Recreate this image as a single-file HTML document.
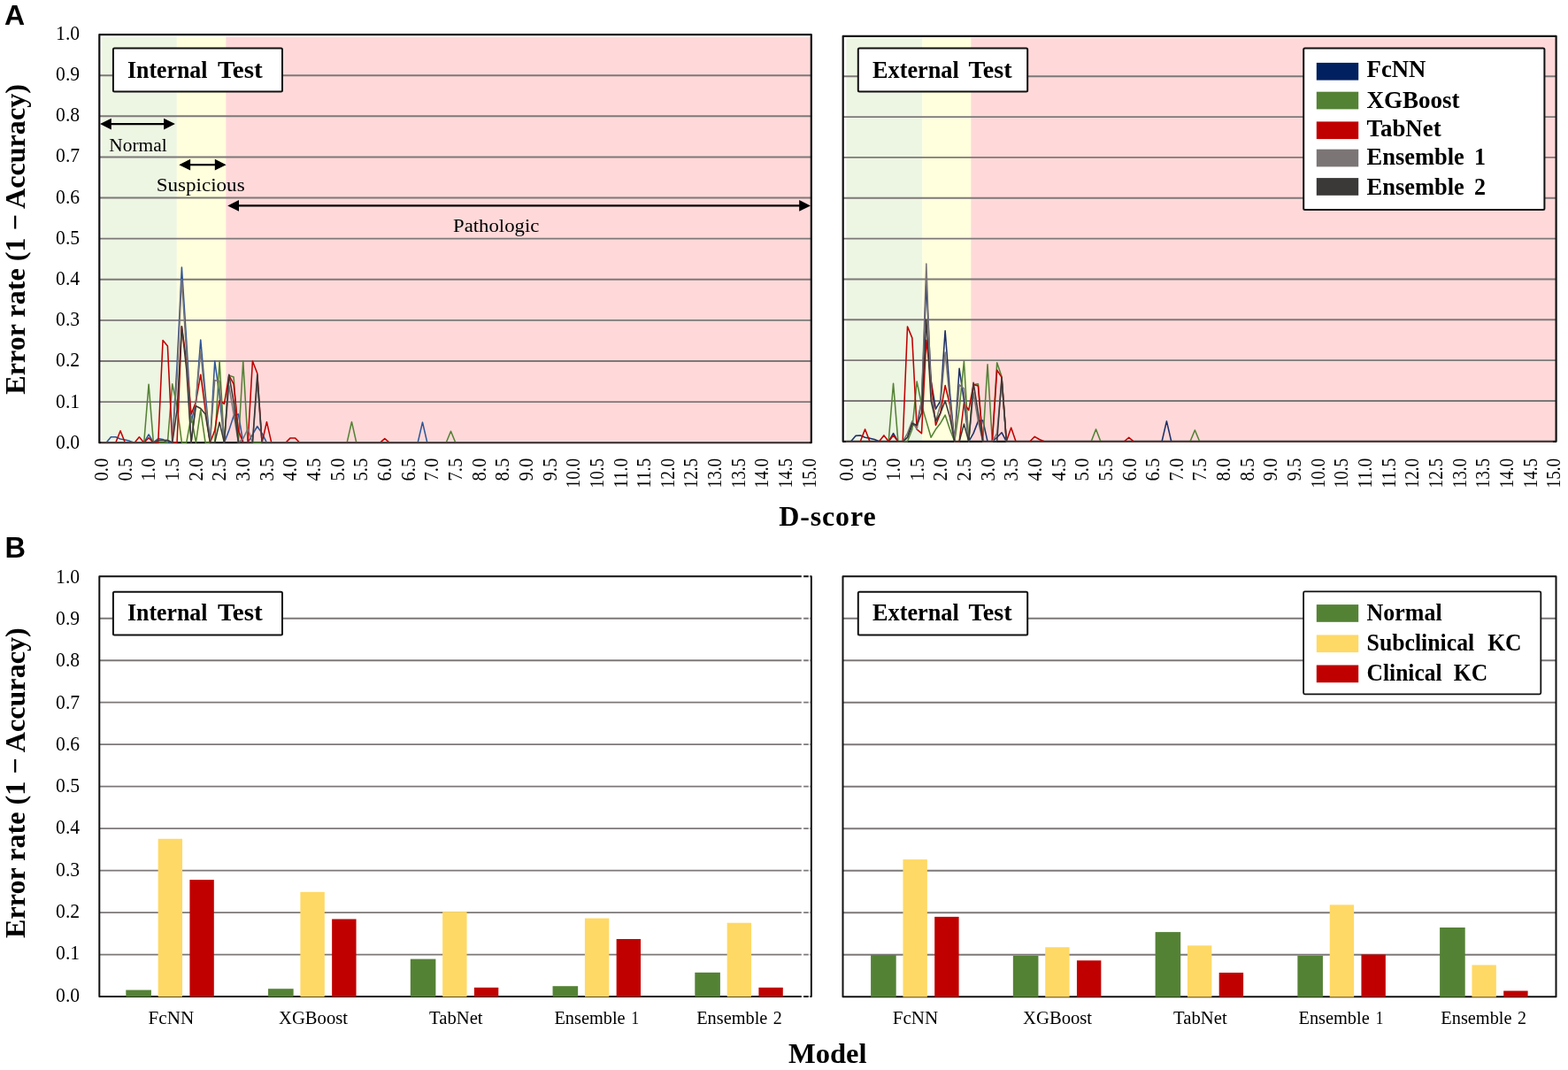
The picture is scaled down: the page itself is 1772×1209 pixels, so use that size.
<!DOCTYPE html>
<html lang="en"><head><meta charset="utf-8"><title>Error rate by D-score and model</title>
<style>html,body{margin:0;padding:0;background:#fff}svg{display:block}text{fill:#000}</style></head><body>
<svg width="1772" height="1209" viewBox="0 0 1772 1209" role="img" aria-label="Error rate by D-score and by model for internal and external test sets">
<rect width="1772" height="1209" fill="#fff"/>
<text x="5" y="27.6" font-family="'Liberation Sans',Arial,sans-serif" font-size="32" font-weight="bold">A</text>
<text x="5.5" y="629.8" font-family="'Liberation Sans',Arial,sans-serif" font-size="32.5" font-weight="bold">B</text>
<rect x="115.3" y="41.7" width="84.5" height="458.5" fill="#edf5e3"/>
<rect x="199.8" y="41.7" width="55.5" height="458.5" fill="#ffffdd"/>
<rect x="255.3" y="41.7" width="660.9" height="458.5" fill="#ffd9d9"/>
<line x1="112.3" y1="454.09" x2="916.8" y2="454.09" stroke="#7d7878" stroke-width="1.9"/>
<line x1="112.3" y1="407.98" x2="916.8" y2="407.98" stroke="#7d7878" stroke-width="1.9"/>
<line x1="112.3" y1="361.87" x2="916.8" y2="361.87" stroke="#7d7878" stroke-width="1.9"/>
<line x1="112.3" y1="315.76" x2="916.8" y2="315.76" stroke="#7d7878" stroke-width="1.9"/>
<line x1="112.3" y1="269.65" x2="916.8" y2="269.65" stroke="#7d7878" stroke-width="1.9"/>
<line x1="112.3" y1="223.54" x2="916.8" y2="223.54" stroke="#7d7878" stroke-width="1.9"/>
<line x1="112.3" y1="177.43" x2="916.8" y2="177.43" stroke="#7d7878" stroke-width="1.9"/>
<line x1="112.3" y1="131.32" x2="916.8" y2="131.32" stroke="#7d7878" stroke-width="1.9"/>
<line x1="112.3" y1="85.21" x2="916.8" y2="85.21" stroke="#7d7878" stroke-width="1.9"/>
<rect x="112.3" y="39.1" width="804.5" height="461.1" fill="none" stroke="#111111" stroke-width="2.2" stroke-linejoin="round"/>
<polyline points="114.7,500.2 120.03,500.2 125.37,493.74 130.71,493.74 136.04,496.05 141.38,496.97 146.71,498.36 152.05,500.2 157.38,500.2 162.72,500.2 168.05,490.98 173.38,500.2 178.72,495.59 184.06,496.51 189.39,500.2 194.73,500.2 200.06,412.59 205.39,301.93 210.73,384.93 216.06,477.14 221.4,454.09 226.74,384 232.07,444.87 237.41,500.2 242.74,407.98 248.07,447.17 253.41,500.2 258.75,486.37 264.08,469.77 269.42,467.92 274.75,500.2 280.08,500.2 285.42,490.98 290.75,481.76 296.09,489.59 301.43,500.2 306.76,500.2 312.1,500.2 317.43,500.2 322.76,500.2 328.1,500.2 333.44,500.2 338.77,500.2 344.11,500.2 349.44,500.2 354.77,500.2 360.11,500.2 365.44,500.2 370.78,500.2 376.12,500.2 381.45,500.2 386.78,500.2 392.12,500.2 397.45,500.2 402.79,500.2 408.12,500.2 413.46,500.2 418.79,500.2 424.13,500.2 429.46,500.2 434.8,500.2 440.13,500.2 445.47,500.2 450.81,500.2 456.14,500.2 461.47,500.2 466.81,500.2 472.14,500.2 477.48,477.14 482.81,500.2 488.15,500.2 493.49,500.2 498.82,500.2 504.15,500.2 509.49,500.2 514.83,500.2 520.16,500.2 525.5,500.2 530.83,500.2 536.16,500.2 541.5,500.2 546.84,500.2 552.17,500.2 557.5,500.2 562.84,500.2 568.18,500.2 573.51,500.2 578.85,500.2 584.18,500.2 589.51,500.2 594.85,500.2 600.19,500.2 605.52,500.2 610.86,500.2 616.19,500.2 621.52,500.2 626.86,500.2 632.2,500.2 637.53,500.2 642.87,500.2 648.2,500.2 653.54,500.2 658.87,500.2 664.21,500.2 669.54,500.2 674.88,500.2 680.21,500.2 685.55,500.2 690.88,500.2 696.22,500.2 701.55,500.2 706.88,500.2 712.22,500.2 717.56,500.2 722.89,500.2 728.23,500.2 733.56,500.2 738.9,500.2 744.23,500.2 749.57,500.2 754.9,500.2 760.24,500.2 765.57,500.2 770.91,500.2 776.24,500.2 781.58,500.2 786.91,500.2 792.25,500.2 797.58,500.2 802.92,500.2 808.25,500.2 813.59,500.2 818.92,500.2 824.25,500.2 829.59,500.2 834.93,500.2 840.26,500.2 845.6,500.2 850.93,500.2 856.26,500.2 861.6,500.2 866.94,500.2 872.27,500.2 877.61,500.2 882.94,500.2 888.28,500.2 893.61,500.2 898.95,500.2 904.28,500.2 909.62,500.2 914.95,500.2" fill="none" stroke="#2f5597" stroke-width="1.55" stroke-linejoin="round"/>
<polyline points="114.7,500.2 120.03,500.2 125.37,500.2 130.71,500.2 136.04,500.2 141.38,500.2 146.71,500.2 152.05,500.2 157.38,500.2 162.72,500.2 168.05,434.26 173.38,500.2 178.72,500.2 184.06,500.2 189.39,500.2 194.73,433.8 200.06,458.7 205.39,500.2 210.73,500.2 216.06,470.23 221.4,500.2 226.74,463.31 232.07,500.2 237.41,500.2 242.74,500.2 248.07,407.98 253.41,500.2 258.75,424.12 264.08,425.96 269.42,500.2 274.75,407.98 280.08,500.2 285.42,500.2 290.75,500.2 296.09,500.2 301.43,500.2 306.76,500.2 312.1,500.2 317.43,500.2 322.76,500.2 328.1,500.2 333.44,500.2 338.77,500.2 344.11,500.2 349.44,500.2 354.77,500.2 360.11,500.2 365.44,500.2 370.78,500.2 376.12,500.2 381.45,500.2 386.78,500.2 392.12,500.2 397.45,476.68 402.79,500.2 408.12,500.2 413.46,500.2 418.79,500.2 424.13,500.2 429.46,500.2 434.8,500.2 440.13,500.2 445.47,500.2 450.81,500.2 456.14,500.2 461.47,500.2 466.81,500.2 472.14,500.2 477.48,500.2 482.81,500.2 488.15,500.2 493.49,500.2 498.82,500.2 504.15,500.2 509.49,487.29 514.83,500.2 520.16,500.2 525.5,500.2 530.83,500.2 536.16,500.2 541.5,500.2 546.84,500.2 552.17,500.2 557.5,500.2 562.84,500.2 568.18,500.2 573.51,500.2 578.85,500.2 584.18,500.2 589.51,500.2 594.85,500.2 600.19,500.2 605.52,500.2 610.86,500.2 616.19,500.2 621.52,500.2 626.86,500.2 632.2,500.2 637.53,500.2 642.87,500.2 648.2,500.2 653.54,500.2 658.87,500.2 664.21,500.2 669.54,500.2 674.88,500.2 680.21,500.2 685.55,500.2 690.88,500.2 696.22,500.2 701.55,500.2 706.88,500.2 712.22,500.2 717.56,500.2 722.89,500.2 728.23,500.2 733.56,500.2 738.9,500.2 744.23,500.2 749.57,500.2 754.9,500.2 760.24,500.2 765.57,500.2 770.91,500.2 776.24,500.2 781.58,500.2 786.91,500.2 792.25,500.2 797.58,500.2 802.92,500.2 808.25,500.2 813.59,500.2 818.92,500.2 824.25,500.2 829.59,500.2 834.93,500.2 840.26,500.2 845.6,500.2 850.93,500.2 856.26,500.2 861.6,500.2 866.94,500.2 872.27,500.2 877.61,500.2 882.94,500.2 888.28,500.2 893.61,500.2 898.95,500.2 904.28,500.2 909.62,500.2 914.95,500.2" fill="none" stroke="#548235" stroke-width="1.55" stroke-linejoin="round"/>
<polyline points="114.7,500.2 120.03,500.2 125.37,500.2 130.71,500.2 136.04,486.83 141.38,500.2 146.71,500.2 152.05,500.2 157.38,493.74 162.72,500.2 168.05,494.67 173.38,500.2 178.72,500.2 184.06,384.46 189.39,390.92 194.73,500.2 200.06,500.2 205.39,368.79 210.73,407.98 216.06,467.92 221.4,454.09 226.74,423.2 232.07,463.31 237.41,500.2 242.74,486.37 248.07,452.71 253.41,456.4 258.75,424.12 264.08,433.8 269.42,486.37 274.75,500.2 280.08,500.2 285.42,407.98 290.75,421.81 296.09,500.2 301.43,476.68 306.76,500.2 312.1,500.2 317.43,500.2 322.76,500.2 328.1,494.9 333.44,494.9 338.77,500.2 344.11,500.2 349.44,500.2 354.77,500.2 360.11,500.2 365.44,500.2 370.78,500.2 376.12,500.2 381.45,500.2 386.78,500.2 392.12,500.2 397.45,500.2 402.79,500.2 408.12,500.2 413.46,500.2 418.79,500.2 424.13,500.2 429.46,500.2 434.8,495.59 440.13,500.2 445.47,500.2 450.81,500.2 456.14,500.2 461.47,500.2 466.81,500.2 472.14,500.2 477.48,500.2 482.81,500.2 488.15,500.2 493.49,500.2 498.82,500.2 504.15,500.2 509.49,500.2 514.83,500.2 520.16,500.2 525.5,500.2 530.83,500.2 536.16,500.2 541.5,500.2 546.84,500.2 552.17,500.2 557.5,500.2 562.84,500.2 568.18,500.2 573.51,500.2 578.85,500.2 584.18,500.2 589.51,500.2 594.85,500.2 600.19,500.2 605.52,500.2 610.86,500.2 616.19,500.2 621.52,500.2 626.86,500.2 632.2,500.2 637.53,500.2 642.87,500.2 648.2,500.2 653.54,500.2 658.87,500.2 664.21,500.2 669.54,500.2 674.88,500.2 680.21,500.2 685.55,500.2 690.88,500.2 696.22,500.2 701.55,500.2 706.88,500.2 712.22,500.2 717.56,500.2 722.89,500.2 728.23,500.2 733.56,500.2 738.9,500.2 744.23,500.2 749.57,500.2 754.9,500.2 760.24,500.2 765.57,500.2 770.91,500.2 776.24,500.2 781.58,500.2 786.91,500.2 792.25,500.2 797.58,500.2 802.92,500.2 808.25,500.2 813.59,500.2 818.92,500.2 824.25,500.2 829.59,500.2 834.93,500.2 840.26,500.2 845.6,500.2 850.93,500.2 856.26,500.2 861.6,500.2 866.94,500.2 872.27,500.2 877.61,500.2 882.94,500.2 888.28,500.2 893.61,500.2 898.95,500.2 904.28,500.2 909.62,500.2 914.95,500.2" fill="none" stroke="#c00000" stroke-width="1.55" stroke-linejoin="round"/>
<polyline points="114.7,500.2 120.03,500.2 125.37,500.2 130.71,500.2 136.04,500.2 141.38,500.2 146.71,500.2 152.05,500.2 157.38,500.2 162.72,500.2 168.05,500.2 173.38,500.2 178.72,497.43 184.06,497.43 189.39,497.43 194.73,500.2 200.06,426.42 205.39,315.76 210.73,398.76 216.06,500.2 221.4,454.09 226.74,396.45 232.07,454.09 237.41,500.2 242.74,429.65 248.07,430.57 253.41,500.2 258.75,435.65 264.08,467.92 269.42,500.2 274.75,495.59 280.08,484.52 285.42,500.2 290.75,431.03 296.09,500.2 301.43,500.2 306.76,500.2 312.1,500.2 317.43,500.2 322.76,500.2 328.1,500.2 333.44,500.2 338.77,500.2 344.11,500.2 349.44,500.2 354.77,500.2 360.11,500.2 365.44,500.2 370.78,500.2 376.12,500.2 381.45,500.2 386.78,500.2 392.12,500.2 397.45,500.2 402.79,500.2 408.12,500.2 413.46,500.2 418.79,500.2 424.13,500.2 429.46,500.2 434.8,500.2 440.13,500.2 445.47,500.2 450.81,500.2 456.14,500.2 461.47,500.2 466.81,500.2 472.14,500.2 477.48,500.2 482.81,500.2 488.15,500.2 493.49,500.2 498.82,500.2 504.15,500.2 509.49,500.2 514.83,500.2 520.16,500.2 525.5,500.2 530.83,500.2 536.16,500.2 541.5,500.2 546.84,500.2 552.17,500.2 557.5,500.2 562.84,500.2 568.18,500.2 573.51,500.2 578.85,500.2 584.18,500.2 589.51,500.2 594.85,500.2 600.19,500.2 605.52,500.2 610.86,500.2 616.19,500.2 621.52,500.2 626.86,500.2 632.2,500.2 637.53,500.2 642.87,500.2 648.2,500.2 653.54,500.2 658.87,500.2 664.21,500.2 669.54,500.2 674.88,500.2 680.21,500.2 685.55,500.2 690.88,500.2 696.22,500.2 701.55,500.2 706.88,500.2 712.22,500.2 717.56,500.2 722.89,500.2 728.23,500.2 733.56,500.2 738.9,500.2 744.23,500.2 749.57,500.2 754.9,500.2 760.24,500.2 765.57,500.2 770.91,500.2 776.24,500.2 781.58,500.2 786.91,500.2 792.25,500.2 797.58,500.2 802.92,500.2 808.25,500.2 813.59,500.2 818.92,500.2 824.25,500.2 829.59,500.2 834.93,500.2 840.26,500.2 845.6,500.2 850.93,500.2 856.26,500.2 861.6,500.2 866.94,500.2 872.27,500.2 877.61,500.2 882.94,500.2 888.28,500.2 893.61,500.2 898.95,500.2 904.28,500.2 909.62,500.2 914.95,500.2" fill="none" stroke="#7b7576" stroke-width="1.55" stroke-linejoin="round"/>
<polyline points="114.7,500.2 120.03,500.2 125.37,500.2 130.71,500.2 136.04,500.2 141.38,500.2 146.71,500.2 152.05,500.2 157.38,500.2 162.72,500.2 168.05,500.2 173.38,500.2 178.72,497.43 184.06,497.43 189.39,497.43 194.73,500.2 200.06,463.31 205.39,368.79 210.73,417.2 216.06,500.2 221.4,458.7 226.74,461.47 232.07,467.92 237.41,500.2 242.74,500.2 248.07,477.14 253.41,500.2 258.75,423.2 264.08,454.09 269.42,500.2 274.75,500.2 280.08,500.2 285.42,500.2 290.75,423.2 296.09,500.2 301.43,500.2 306.76,500.2 312.1,500.2 317.43,500.2 322.76,500.2 328.1,500.2 333.44,500.2 338.77,500.2 344.11,500.2 349.44,500.2 354.77,500.2 360.11,500.2 365.44,500.2 370.78,500.2 376.12,500.2 381.45,500.2 386.78,500.2 392.12,500.2 397.45,500.2 402.79,500.2 408.12,500.2 413.46,500.2 418.79,500.2 424.13,500.2 429.46,500.2 434.8,500.2 440.13,500.2 445.47,500.2 450.81,500.2 456.14,500.2 461.47,500.2 466.81,500.2 472.14,500.2 477.48,500.2 482.81,500.2 488.15,500.2 493.49,500.2 498.82,500.2 504.15,500.2 509.49,500.2 514.83,500.2 520.16,500.2 525.5,500.2 530.83,500.2 536.16,500.2 541.5,500.2 546.84,500.2 552.17,500.2 557.5,500.2 562.84,500.2 568.18,500.2 573.51,500.2 578.85,500.2 584.18,500.2 589.51,500.2 594.85,500.2 600.19,500.2 605.52,500.2 610.86,500.2 616.19,500.2 621.52,500.2 626.86,500.2 632.2,500.2 637.53,500.2 642.87,500.2 648.2,500.2 653.54,500.2 658.87,500.2 664.21,500.2 669.54,500.2 674.88,500.2 680.21,500.2 685.55,500.2 690.88,500.2 696.22,500.2 701.55,500.2 706.88,500.2 712.22,500.2 717.56,500.2 722.89,500.2 728.23,500.2 733.56,500.2 738.9,500.2 744.23,500.2 749.57,500.2 754.9,500.2 760.24,500.2 765.57,500.2 770.91,500.2 776.24,500.2 781.58,500.2 786.91,500.2 792.25,500.2 797.58,500.2 802.92,500.2 808.25,500.2 813.59,500.2 818.92,500.2 824.25,500.2 829.59,500.2 834.93,500.2 840.26,500.2 845.6,500.2 850.93,500.2 856.26,500.2 861.6,500.2 866.94,500.2 872.27,500.2 877.61,500.2 882.94,500.2 888.28,500.2 893.61,500.2 898.95,500.2 904.28,500.2 909.62,500.2 914.95,500.2" fill="none" stroke="#3b3838" stroke-width="1.55" stroke-linejoin="round"/>
<rect x="956.5" y="42.6" width="85.9" height="456.2" fill="#edf5e3"/>
<rect x="1042.4" y="42.6" width="54.9" height="456.2" fill="#ffffdd"/>
<rect x="1097.3" y="42.6" width="660.7" height="456.2" fill="#ffd9d9"/>
<line x1="952.7" y1="452.96" x2="1758.6" y2="452.96" stroke="#7d7878" stroke-width="1.9"/>
<line x1="952.7" y1="407.12" x2="1758.6" y2="407.12" stroke="#7d7878" stroke-width="1.9"/>
<line x1="952.7" y1="361.28" x2="1758.6" y2="361.28" stroke="#7d7878" stroke-width="1.9"/>
<line x1="952.7" y1="315.44" x2="1758.6" y2="315.44" stroke="#7d7878" stroke-width="1.9"/>
<line x1="952.7" y1="269.6" x2="1758.6" y2="269.6" stroke="#7d7878" stroke-width="1.9"/>
<line x1="952.7" y1="223.76" x2="1758.6" y2="223.76" stroke="#7d7878" stroke-width="1.9"/>
<line x1="952.7" y1="177.92" x2="1758.6" y2="177.92" stroke="#7d7878" stroke-width="1.9"/>
<line x1="952.7" y1="132.08" x2="1758.6" y2="132.08" stroke="#7d7878" stroke-width="1.9"/>
<line x1="952.7" y1="86.24" x2="1758.6" y2="86.24" stroke="#7d7878" stroke-width="1.9"/>
<rect x="952.7" y="40.8" width="805.9" height="458" fill="none" stroke="#111111" stroke-width="2.2" stroke-linejoin="round"/>
<polyline points="956.3,498.8 961.62,498.8 966.95,492.38 972.27,491.92 977.6,494.22 982.92,495.13 988.25,496.51 993.57,498.8 998.9,498.8 1004.22,498.8 1009.55,489.63 1014.88,498.8 1020.2,498.8 1025.52,494.22 1030.85,480.46 1036.17,480.46 1041.5,452.96 1046.83,320.02 1052.15,430.04 1057.47,462.13 1062.8,452.96 1068.12,373.66 1073.45,443.79 1078.77,498.8 1084.1,416.29 1089.42,452.96 1094.75,498.8 1100.08,489.63 1105.4,475.88 1110.72,474.96 1116.05,498.8 1121.38,498.8 1126.7,494.22 1132.02,488.72 1137.35,498.8 1142.67,498.8 1148,498.8 1153.33,498.8 1158.65,498.8 1163.97,498.8 1169.3,498.8 1174.62,498.8 1179.95,498.8 1185.27,498.8 1190.6,498.8 1195.92,498.8 1201.25,498.8 1206.58,498.8 1211.9,498.8 1217.22,498.8 1222.55,498.8 1227.88,498.8 1233.2,498.8 1238.53,498.8 1243.85,498.8 1249.17,498.8 1254.5,498.8 1259.83,498.8 1265.15,498.8 1270.47,498.8 1275.8,498.8 1281.12,498.8 1286.45,498.8 1291.78,498.8 1297.1,498.8 1302.42,498.8 1307.75,498.8 1313.08,498.8 1318.4,475.88 1323.72,498.8 1329.05,498.8 1334.38,498.8 1339.7,498.8 1345.03,498.8 1350.35,498.8 1355.67,498.8 1361,498.8 1366.33,498.8 1371.65,498.8 1376.97,498.8 1382.3,498.8 1387.62,498.8 1392.95,498.8 1398.28,498.8 1403.6,498.8 1408.92,498.8 1414.25,498.8 1419.58,498.8 1424.9,498.8 1430.22,498.8 1435.55,498.8 1440.88,498.8 1446.2,498.8 1451.53,498.8 1456.85,498.8 1462.17,498.8 1467.5,498.8 1472.82,498.8 1478.15,498.8 1483.47,498.8 1488.8,498.8 1494.12,498.8 1499.45,498.8 1504.78,498.8 1510.1,498.8 1515.42,498.8 1520.75,498.8 1526.07,498.8 1531.4,498.8 1536.72,498.8 1542.05,498.8 1547.38,498.8 1552.7,498.8 1558.03,498.8 1563.35,498.8 1568.67,498.8 1574,498.8 1579.32,498.8 1584.65,498.8 1589.97,498.8 1595.3,498.8 1600.62,498.8 1605.95,498.8 1611.28,498.8 1616.6,498.8 1621.92,498.8 1627.25,498.8 1632.57,498.8 1637.9,498.8 1643.22,498.8 1648.55,498.8 1653.88,498.8 1659.2,498.8 1664.53,498.8 1669.85,498.8 1675.17,498.8 1680.5,498.8 1685.82,498.8 1691.15,498.8 1696.47,498.8 1701.8,498.8 1707.12,498.8 1712.45,498.8 1717.78,498.8 1723.1,498.8 1728.42,498.8 1733.75,498.8 1739.07,498.8 1744.4,498.8 1749.72,498.8 1755.05,498.8" fill="none" stroke="#1f3068" stroke-width="1.55" stroke-linejoin="round"/>
<polyline points="956.3,498.8 961.62,498.8 966.95,498.8 972.27,498.8 977.6,498.8 982.92,498.8 988.25,498.8 993.57,498.8 998.9,498.8 1004.22,498.8 1009.55,433.25 1014.88,498.8 1020.2,498.8 1025.52,498.8 1030.85,485.05 1036.17,430.96 1041.5,457.54 1046.83,475.88 1052.15,494.22 1057.47,485.05 1062.8,478.17 1068.12,469 1073.45,485.05 1078.77,498.8 1084.1,462.13 1089.42,408.04 1094.75,498.8 1100.08,434.62 1105.4,433.71 1110.72,498.8 1116.05,411.7 1121.38,498.8 1126.7,409.87 1132.02,425.46 1137.35,498.8 1142.67,498.8 1148,498.8 1153.33,498.8 1158.65,498.8 1163.97,498.8 1169.3,498.8 1174.62,498.8 1179.95,498.8 1185.27,498.8 1190.6,498.8 1195.92,498.8 1201.25,498.8 1206.58,498.8 1211.9,498.8 1217.22,498.8 1222.55,498.8 1227.88,498.8 1233.2,498.8 1238.53,485.05 1243.85,498.8 1249.17,498.8 1254.5,498.8 1259.83,498.8 1265.15,498.8 1270.47,498.8 1275.8,498.8 1281.12,498.8 1286.45,498.8 1291.78,498.8 1297.1,498.8 1302.42,498.8 1307.75,498.8 1313.08,498.8 1318.4,498.8 1323.72,498.8 1329.05,498.8 1334.38,498.8 1339.7,498.8 1345.03,498.8 1350.35,485.96 1355.67,498.8 1361,498.8 1366.33,498.8 1371.65,498.8 1376.97,498.8 1382.3,498.8 1387.62,498.8 1392.95,498.8 1398.28,498.8 1403.6,498.8 1408.92,498.8 1414.25,498.8 1419.58,498.8 1424.9,498.8 1430.22,498.8 1435.55,498.8 1440.88,498.8 1446.2,498.8 1451.53,498.8 1456.85,498.8 1462.17,498.8 1467.5,498.8 1472.82,498.8 1478.15,498.8 1483.47,498.8 1488.8,498.8 1494.12,498.8 1499.45,498.8 1504.78,498.8 1510.1,498.8 1515.42,498.8 1520.75,498.8 1526.07,498.8 1531.4,498.8 1536.72,498.8 1542.05,498.8 1547.38,498.8 1552.7,498.8 1558.03,498.8 1563.35,498.8 1568.67,498.8 1574,498.8 1579.32,498.8 1584.65,498.8 1589.97,498.8 1595.3,498.8 1600.62,498.8 1605.95,498.8 1611.28,498.8 1616.6,498.8 1621.92,498.8 1627.25,498.8 1632.57,498.8 1637.9,498.8 1643.22,498.8 1648.55,498.8 1653.88,498.8 1659.2,498.8 1664.53,498.8 1669.85,498.8 1675.17,498.8 1680.5,498.8 1685.82,498.8 1691.15,498.8 1696.47,498.8 1701.8,498.8 1707.12,498.8 1712.45,498.8 1717.78,498.8 1723.1,498.8 1728.42,498.8 1733.75,498.8 1739.07,498.8 1744.4,498.8 1749.72,498.8 1755.05,498.8" fill="none" stroke="#548235" stroke-width="1.55" stroke-linejoin="round"/>
<polyline points="956.3,498.8 961.62,498.8 966.95,498.8 972.27,498.8 977.6,485.05 982.92,498.8 988.25,498.8 993.57,498.8 998.9,491.92 1004.22,498.8 1009.55,491.92 1014.88,498.8 1020.2,498.8 1025.52,369.07 1030.85,381.91 1036.17,485.05 1041.5,489.63 1046.83,384.2 1052.15,430.04 1057.47,480.46 1062.8,466.71 1068.12,435.54 1073.45,457.54 1078.77,498.8 1084.1,498.8 1089.42,455.71 1094.75,463.5 1100.08,434.62 1105.4,436 1110.72,498.8 1116.05,498.8 1121.38,498.8 1126.7,418.12 1132.02,426.37 1137.35,498.8 1142.67,483.21 1148,498.8 1153.33,498.8 1158.65,498.8 1163.97,498.8 1169.3,493.3 1174.62,496.51 1179.95,498.8 1185.27,498.8 1190.6,498.8 1195.92,498.8 1201.25,498.8 1206.58,498.8 1211.9,498.8 1217.22,498.8 1222.55,498.8 1227.88,498.8 1233.2,498.8 1238.53,498.8 1243.85,498.8 1249.17,498.8 1254.5,498.8 1259.83,498.8 1265.15,498.8 1270.47,498.8 1275.8,494.22 1281.12,498.8 1286.45,498.8 1291.78,498.8 1297.1,498.8 1302.42,498.8 1307.75,498.8 1313.08,498.8 1318.4,498.8 1323.72,498.8 1329.05,498.8 1334.38,498.8 1339.7,498.8 1345.03,498.8 1350.35,498.8 1355.67,498.8 1361,498.8 1366.33,498.8 1371.65,498.8 1376.97,498.8 1382.3,498.8 1387.62,498.8 1392.95,498.8 1398.28,498.8 1403.6,498.8 1408.92,498.8 1414.25,498.8 1419.58,498.8 1424.9,498.8 1430.22,498.8 1435.55,498.8 1440.88,498.8 1446.2,498.8 1451.53,498.8 1456.85,498.8 1462.17,498.8 1467.5,498.8 1472.82,498.8 1478.15,498.8 1483.47,498.8 1488.8,498.8 1494.12,498.8 1499.45,498.8 1504.78,498.8 1510.1,498.8 1515.42,498.8 1520.75,498.8 1526.07,498.8 1531.4,498.8 1536.72,498.8 1542.05,498.8 1547.38,498.8 1552.7,498.8 1558.03,498.8 1563.35,498.8 1568.67,498.8 1574,498.8 1579.32,498.8 1584.65,498.8 1589.97,498.8 1595.3,498.8 1600.62,498.8 1605.95,498.8 1611.28,498.8 1616.6,498.8 1621.92,498.8 1627.25,498.8 1632.57,498.8 1637.9,498.8 1643.22,498.8 1648.55,498.8 1653.88,498.8 1659.2,498.8 1664.53,498.8 1669.85,498.8 1675.17,498.8 1680.5,498.8 1685.82,498.8 1691.15,498.8 1696.47,498.8 1701.8,498.8 1707.12,498.8 1712.45,498.8 1717.78,498.8 1723.1,498.8 1728.42,498.8 1733.75,498.8 1739.07,498.8 1744.4,498.8 1749.72,498.8 1755.05,498.8" fill="none" stroke="#c00000" stroke-width="1.55" stroke-linejoin="round"/>
<polyline points="956.3,498.8 961.62,498.8 966.95,498.8 972.27,498.8 977.6,498.8 982.92,498.8 988.25,498.8 993.57,498.8 998.9,498.8 1004.22,498.8 1009.55,498.8 1014.88,498.8 1020.2,498.8 1025.52,489.63 1030.85,475.88 1036.17,485.05 1041.5,452.96 1046.83,298.02 1052.15,443.79 1057.47,475.88 1062.8,457.54 1068.12,397.95 1073.45,452.96 1078.77,498.8 1084.1,434.62 1089.42,439.21 1094.75,498.8 1100.08,443.79 1105.4,475.88 1110.72,498.8 1116.05,498.8 1121.38,498.8 1126.7,489.63 1132.02,430.04 1137.35,498.8 1142.67,498.8 1148,498.8 1153.33,498.8 1158.65,498.8 1163.97,498.8 1169.3,498.8 1174.62,498.8 1179.95,498.8 1185.27,498.8 1190.6,498.8 1195.92,498.8 1201.25,498.8 1206.58,498.8 1211.9,498.8 1217.22,498.8 1222.55,498.8 1227.88,498.8 1233.2,498.8 1238.53,498.8 1243.85,498.8 1249.17,498.8 1254.5,498.8 1259.83,498.8 1265.15,498.8 1270.47,498.8 1275.8,498.8 1281.12,498.8 1286.45,498.8 1291.78,498.8 1297.1,498.8 1302.42,498.8 1307.75,498.8 1313.08,498.8 1318.4,498.8 1323.72,498.8 1329.05,498.8 1334.38,498.8 1339.7,498.8 1345.03,498.8 1350.35,498.8 1355.67,498.8 1361,498.8 1366.33,498.8 1371.65,498.8 1376.97,498.8 1382.3,498.8 1387.62,498.8 1392.95,498.8 1398.28,498.8 1403.6,498.8 1408.92,498.8 1414.25,498.8 1419.58,498.8 1424.9,498.8 1430.22,498.8 1435.55,498.8 1440.88,498.8 1446.2,498.8 1451.53,498.8 1456.85,498.8 1462.17,498.8 1467.5,498.8 1472.82,498.8 1478.15,498.8 1483.47,498.8 1488.8,498.8 1494.12,498.8 1499.45,498.8 1504.78,498.8 1510.1,498.8 1515.42,498.8 1520.75,498.8 1526.07,498.8 1531.4,498.8 1536.72,498.8 1542.05,498.8 1547.38,498.8 1552.7,498.8 1558.03,498.8 1563.35,498.8 1568.67,498.8 1574,498.8 1579.32,498.8 1584.65,498.8 1589.97,498.8 1595.3,498.8 1600.62,498.8 1605.95,498.8 1611.28,498.8 1616.6,498.8 1621.92,498.8 1627.25,498.8 1632.57,498.8 1637.9,498.8 1643.22,498.8 1648.55,498.8 1653.88,498.8 1659.2,498.8 1664.53,498.8 1669.85,498.8 1675.17,498.8 1680.5,498.8 1685.82,498.8 1691.15,498.8 1696.47,498.8 1701.8,498.8 1707.12,498.8 1712.45,498.8 1717.78,498.8 1723.1,498.8 1728.42,498.8 1733.75,498.8 1739.07,498.8 1744.4,498.8 1749.72,498.8 1755.05,498.8" fill="none" stroke="#7b7576" stroke-width="1.55" stroke-linejoin="round"/>
<polyline points="956.3,498.8 961.62,498.8 966.95,498.8 972.27,498.8 977.6,498.8 982.92,498.8 988.25,498.8 993.57,498.8 998.9,498.8 1004.22,498.8 1009.55,498.8 1014.88,498.8 1020.2,498.8 1025.52,494.22 1030.85,478.17 1036.17,480.46 1041.5,466.71 1046.83,361.28 1052.15,452.96 1057.47,475.88 1062.8,466.71 1068.12,452.96 1073.45,471.3 1078.77,498.8 1084.1,498.8 1089.42,479.09 1094.75,498.8 1100.08,432.33 1105.4,466.71 1110.72,498.8 1116.05,498.8 1121.38,498.8 1126.7,498.8 1132.02,426.83 1137.35,498.8 1142.67,498.8 1148,498.8 1153.33,498.8 1158.65,498.8 1163.97,498.8 1169.3,498.8 1174.62,498.8 1179.95,498.8 1185.27,498.8 1190.6,498.8 1195.92,498.8 1201.25,498.8 1206.58,498.8 1211.9,498.8 1217.22,498.8 1222.55,498.8 1227.88,498.8 1233.2,498.8 1238.53,498.8 1243.85,498.8 1249.17,498.8 1254.5,498.8 1259.83,498.8 1265.15,498.8 1270.47,498.8 1275.8,498.8 1281.12,498.8 1286.45,498.8 1291.78,498.8 1297.1,498.8 1302.42,498.8 1307.75,498.8 1313.08,498.8 1318.4,498.8 1323.72,498.8 1329.05,498.8 1334.38,498.8 1339.7,498.8 1345.03,498.8 1350.35,498.8 1355.67,498.8 1361,498.8 1366.33,498.8 1371.65,498.8 1376.97,498.8 1382.3,498.8 1387.62,498.8 1392.95,498.8 1398.28,498.8 1403.6,498.8 1408.92,498.8 1414.25,498.8 1419.58,498.8 1424.9,498.8 1430.22,498.8 1435.55,498.8 1440.88,498.8 1446.2,498.8 1451.53,498.8 1456.85,498.8 1462.17,498.8 1467.5,498.8 1472.82,498.8 1478.15,498.8 1483.47,498.8 1488.8,498.8 1494.12,498.8 1499.45,498.8 1504.78,498.8 1510.1,498.8 1515.42,498.8 1520.75,498.8 1526.07,498.8 1531.4,498.8 1536.72,498.8 1542.05,498.8 1547.38,498.8 1552.7,498.8 1558.03,498.8 1563.35,498.8 1568.67,498.8 1574,498.8 1579.32,498.8 1584.65,498.8 1589.97,498.8 1595.3,498.8 1600.62,498.8 1605.95,498.8 1611.28,498.8 1616.6,498.8 1621.92,498.8 1627.25,498.8 1632.57,498.8 1637.9,498.8 1643.22,498.8 1648.55,498.8 1653.88,498.8 1659.2,498.8 1664.53,498.8 1669.85,498.8 1675.17,498.8 1680.5,498.8 1685.82,498.8 1691.15,498.8 1696.47,498.8 1701.8,498.8 1707.12,498.8 1712.45,498.8 1717.78,498.8 1723.1,498.8 1728.42,498.8 1733.75,498.8 1739.07,498.8 1744.4,498.8 1749.72,498.8 1755.05,498.8" fill="none" stroke="#3b3838" stroke-width="1.55" stroke-linejoin="round"/>
<text x="90.1" y="506.9" font-family="'Liberation Serif','Times New Roman',serif" font-size="23" text-anchor="end" textLength="27" lengthAdjust="spacingAndGlyphs">0.0</text>
<text x="90.1" y="460.68" font-family="'Liberation Serif','Times New Roman',serif" font-size="23" text-anchor="end" textLength="27" lengthAdjust="spacingAndGlyphs">0.1</text>
<text x="90.1" y="414.46" font-family="'Liberation Serif','Times New Roman',serif" font-size="23" text-anchor="end" textLength="27" lengthAdjust="spacingAndGlyphs">0.2</text>
<text x="90.1" y="368.24" font-family="'Liberation Serif','Times New Roman',serif" font-size="23" text-anchor="end" textLength="27" lengthAdjust="spacingAndGlyphs">0.3</text>
<text x="90.1" y="322.02" font-family="'Liberation Serif','Times New Roman',serif" font-size="23" text-anchor="end" textLength="27" lengthAdjust="spacingAndGlyphs">0.4</text>
<text x="90.1" y="275.8" font-family="'Liberation Serif','Times New Roman',serif" font-size="23" text-anchor="end" textLength="27" lengthAdjust="spacingAndGlyphs">0.5</text>
<text x="90.1" y="229.58" font-family="'Liberation Serif','Times New Roman',serif" font-size="23" text-anchor="end" textLength="27" lengthAdjust="spacingAndGlyphs">0.6</text>
<text x="90.1" y="183.36" font-family="'Liberation Serif','Times New Roman',serif" font-size="23" text-anchor="end" textLength="27" lengthAdjust="spacingAndGlyphs">0.7</text>
<text x="90.1" y="137.14" font-family="'Liberation Serif','Times New Roman',serif" font-size="23" text-anchor="end" textLength="27" lengthAdjust="spacingAndGlyphs">0.8</text>
<text x="90.1" y="90.92" font-family="'Liberation Serif','Times New Roman',serif" font-size="23" text-anchor="end" textLength="27" lengthAdjust="spacingAndGlyphs">0.9</text>
<text x="90.1" y="44.7" font-family="'Liberation Serif','Times New Roman',serif" font-size="23" text-anchor="end" textLength="27" lengthAdjust="spacingAndGlyphs">1.0</text>
<text x="90.1" y="1131.6" font-family="'Liberation Serif','Times New Roman',serif" font-size="23" text-anchor="end" textLength="27" lengthAdjust="spacingAndGlyphs">0.0</text>
<text x="90.1" y="1084.3" font-family="'Liberation Serif','Times New Roman',serif" font-size="23" text-anchor="end" textLength="27" lengthAdjust="spacingAndGlyphs">0.1</text>
<text x="90.1" y="1037" font-family="'Liberation Serif','Times New Roman',serif" font-size="23" text-anchor="end" textLength="27" lengthAdjust="spacingAndGlyphs">0.2</text>
<text x="90.1" y="989.7" font-family="'Liberation Serif','Times New Roman',serif" font-size="23" text-anchor="end" textLength="27" lengthAdjust="spacingAndGlyphs">0.3</text>
<text x="90.1" y="942.4" font-family="'Liberation Serif','Times New Roman',serif" font-size="23" text-anchor="end" textLength="27" lengthAdjust="spacingAndGlyphs">0.4</text>
<text x="90.1" y="895.1" font-family="'Liberation Serif','Times New Roman',serif" font-size="23" text-anchor="end" textLength="27" lengthAdjust="spacingAndGlyphs">0.5</text>
<text x="90.1" y="847.8" font-family="'Liberation Serif','Times New Roman',serif" font-size="23" text-anchor="end" textLength="27" lengthAdjust="spacingAndGlyphs">0.6</text>
<text x="90.1" y="800.5" font-family="'Liberation Serif','Times New Roman',serif" font-size="23" text-anchor="end" textLength="27" lengthAdjust="spacingAndGlyphs">0.7</text>
<text x="90.1" y="753.2" font-family="'Liberation Serif','Times New Roman',serif" font-size="23" text-anchor="end" textLength="27" lengthAdjust="spacingAndGlyphs">0.8</text>
<text x="90.1" y="705.9" font-family="'Liberation Serif','Times New Roman',serif" font-size="23" text-anchor="end" textLength="27" lengthAdjust="spacingAndGlyphs">0.9</text>
<text x="90.1" y="658.6" font-family="'Liberation Serif','Times New Roman',serif" font-size="23" text-anchor="end" textLength="27" lengthAdjust="spacingAndGlyphs">1.0</text>
<text x="122" y="543.6" font-family="'Liberation Serif','Times New Roman',serif" font-size="23.2" transform="rotate(-90 122 543.6)" textLength="26" lengthAdjust="spacingAndGlyphs">0.0</text>
<text x="148.66" y="543.6" font-family="'Liberation Serif','Times New Roman',serif" font-size="23.2" transform="rotate(-90 148.66 543.6)" textLength="26" lengthAdjust="spacingAndGlyphs">0.5</text>
<text x="175.32" y="543.6" font-family="'Liberation Serif','Times New Roman',serif" font-size="23.2" transform="rotate(-90 175.32 543.6)" textLength="26" lengthAdjust="spacingAndGlyphs">1.0</text>
<text x="201.98" y="543.6" font-family="'Liberation Serif','Times New Roman',serif" font-size="23.2" transform="rotate(-90 201.98 543.6)" textLength="26" lengthAdjust="spacingAndGlyphs">1.5</text>
<text x="228.64" y="543.6" font-family="'Liberation Serif','Times New Roman',serif" font-size="23.2" transform="rotate(-90 228.64 543.6)" textLength="26" lengthAdjust="spacingAndGlyphs">2.0</text>
<text x="255.3" y="543.6" font-family="'Liberation Serif','Times New Roman',serif" font-size="23.2" transform="rotate(-90 255.3 543.6)" textLength="26" lengthAdjust="spacingAndGlyphs">2.5</text>
<text x="281.96" y="543.6" font-family="'Liberation Serif','Times New Roman',serif" font-size="23.2" transform="rotate(-90 281.96 543.6)" textLength="26" lengthAdjust="spacingAndGlyphs">3.0</text>
<text x="308.62" y="543.6" font-family="'Liberation Serif','Times New Roman',serif" font-size="23.2" transform="rotate(-90 308.62 543.6)" textLength="26" lengthAdjust="spacingAndGlyphs">3.5</text>
<text x="335.28" y="543.6" font-family="'Liberation Serif','Times New Roman',serif" font-size="23.2" transform="rotate(-90 335.28 543.6)" textLength="26" lengthAdjust="spacingAndGlyphs">4.0</text>
<text x="361.94" y="543.6" font-family="'Liberation Serif','Times New Roman',serif" font-size="23.2" transform="rotate(-90 361.94 543.6)" textLength="26" lengthAdjust="spacingAndGlyphs">4.5</text>
<text x="388.6" y="543.6" font-family="'Liberation Serif','Times New Roman',serif" font-size="23.2" transform="rotate(-90 388.6 543.6)" textLength="26" lengthAdjust="spacingAndGlyphs">5.0</text>
<text x="415.26" y="543.6" font-family="'Liberation Serif','Times New Roman',serif" font-size="23.2" transform="rotate(-90 415.26 543.6)" textLength="26" lengthAdjust="spacingAndGlyphs">5.5</text>
<text x="441.92" y="543.6" font-family="'Liberation Serif','Times New Roman',serif" font-size="23.2" transform="rotate(-90 441.92 543.6)" textLength="26" lengthAdjust="spacingAndGlyphs">6.0</text>
<text x="468.58" y="543.6" font-family="'Liberation Serif','Times New Roman',serif" font-size="23.2" transform="rotate(-90 468.58 543.6)" textLength="26" lengthAdjust="spacingAndGlyphs">6.5</text>
<text x="495.24" y="543.6" font-family="'Liberation Serif','Times New Roman',serif" font-size="23.2" transform="rotate(-90 495.24 543.6)" textLength="26" lengthAdjust="spacingAndGlyphs">7.0</text>
<text x="521.9" y="543.6" font-family="'Liberation Serif','Times New Roman',serif" font-size="23.2" transform="rotate(-90 521.9 543.6)" textLength="26" lengthAdjust="spacingAndGlyphs">7.5</text>
<text x="548.56" y="543.6" font-family="'Liberation Serif','Times New Roman',serif" font-size="23.2" transform="rotate(-90 548.56 543.6)" textLength="26" lengthAdjust="spacingAndGlyphs">8.0</text>
<text x="575.22" y="543.6" font-family="'Liberation Serif','Times New Roman',serif" font-size="23.2" transform="rotate(-90 575.22 543.6)" textLength="26" lengthAdjust="spacingAndGlyphs">8.5</text>
<text x="601.88" y="543.6" font-family="'Liberation Serif','Times New Roman',serif" font-size="23.2" transform="rotate(-90 601.88 543.6)" textLength="26" lengthAdjust="spacingAndGlyphs">9.0</text>
<text x="628.54" y="543.6" font-family="'Liberation Serif','Times New Roman',serif" font-size="23.2" transform="rotate(-90 628.54 543.6)" textLength="26" lengthAdjust="spacingAndGlyphs">9.5</text>
<text x="655.2" y="551.4" font-family="'Liberation Serif','Times New Roman',serif" font-size="23.2" transform="rotate(-90 655.2 551.4)" textLength="33.6" lengthAdjust="spacingAndGlyphs">10.0</text>
<text x="681.86" y="551.4" font-family="'Liberation Serif','Times New Roman',serif" font-size="23.2" transform="rotate(-90 681.86 551.4)" textLength="33.6" lengthAdjust="spacingAndGlyphs">10.5</text>
<text x="708.52" y="551.4" font-family="'Liberation Serif','Times New Roman',serif" font-size="23.2" transform="rotate(-90 708.52 551.4)" textLength="33.6" lengthAdjust="spacingAndGlyphs">11.0</text>
<text x="735.18" y="551.4" font-family="'Liberation Serif','Times New Roman',serif" font-size="23.2" transform="rotate(-90 735.18 551.4)" textLength="33.6" lengthAdjust="spacingAndGlyphs">11.5</text>
<text x="761.84" y="551.4" font-family="'Liberation Serif','Times New Roman',serif" font-size="23.2" transform="rotate(-90 761.84 551.4)" textLength="33.6" lengthAdjust="spacingAndGlyphs">12.0</text>
<text x="788.5" y="551.4" font-family="'Liberation Serif','Times New Roman',serif" font-size="23.2" transform="rotate(-90 788.5 551.4)" textLength="33.6" lengthAdjust="spacingAndGlyphs">12.5</text>
<text x="815.16" y="551.4" font-family="'Liberation Serif','Times New Roman',serif" font-size="23.2" transform="rotate(-90 815.16 551.4)" textLength="33.6" lengthAdjust="spacingAndGlyphs">13.0</text>
<text x="841.82" y="551.4" font-family="'Liberation Serif','Times New Roman',serif" font-size="23.2" transform="rotate(-90 841.82 551.4)" textLength="33.6" lengthAdjust="spacingAndGlyphs">13.5</text>
<text x="868.48" y="551.4" font-family="'Liberation Serif','Times New Roman',serif" font-size="23.2" transform="rotate(-90 868.48 551.4)" textLength="33.6" lengthAdjust="spacingAndGlyphs">14.0</text>
<text x="895.14" y="551.4" font-family="'Liberation Serif','Times New Roman',serif" font-size="23.2" transform="rotate(-90 895.14 551.4)" textLength="33.6" lengthAdjust="spacingAndGlyphs">14.5</text>
<text x="921.8" y="551.4" font-family="'Liberation Serif','Times New Roman',serif" font-size="23.2" transform="rotate(-90 921.8 551.4)" textLength="33.6" lengthAdjust="spacingAndGlyphs">15.0</text>
<text x="963.6" y="543.6" font-family="'Liberation Serif','Times New Roman',serif" font-size="23.2" transform="rotate(-90 963.6 543.6)" textLength="26" lengthAdjust="spacingAndGlyphs">0.0</text>
<text x="990.26" y="543.6" font-family="'Liberation Serif','Times New Roman',serif" font-size="23.2" transform="rotate(-90 990.26 543.6)" textLength="26" lengthAdjust="spacingAndGlyphs">0.5</text>
<text x="1016.92" y="543.6" font-family="'Liberation Serif','Times New Roman',serif" font-size="23.2" transform="rotate(-90 1016.92 543.6)" textLength="26" lengthAdjust="spacingAndGlyphs">1.0</text>
<text x="1043.58" y="543.6" font-family="'Liberation Serif','Times New Roman',serif" font-size="23.2" transform="rotate(-90 1043.58 543.6)" textLength="26" lengthAdjust="spacingAndGlyphs">1.5</text>
<text x="1070.24" y="543.6" font-family="'Liberation Serif','Times New Roman',serif" font-size="23.2" transform="rotate(-90 1070.24 543.6)" textLength="26" lengthAdjust="spacingAndGlyphs">2.0</text>
<text x="1096.9" y="543.6" font-family="'Liberation Serif','Times New Roman',serif" font-size="23.2" transform="rotate(-90 1096.9 543.6)" textLength="26" lengthAdjust="spacingAndGlyphs">2.5</text>
<text x="1123.56" y="543.6" font-family="'Liberation Serif','Times New Roman',serif" font-size="23.2" transform="rotate(-90 1123.56 543.6)" textLength="26" lengthAdjust="spacingAndGlyphs">3.0</text>
<text x="1150.22" y="543.6" font-family="'Liberation Serif','Times New Roman',serif" font-size="23.2" transform="rotate(-90 1150.22 543.6)" textLength="26" lengthAdjust="spacingAndGlyphs">3.5</text>
<text x="1176.88" y="543.6" font-family="'Liberation Serif','Times New Roman',serif" font-size="23.2" transform="rotate(-90 1176.88 543.6)" textLength="26" lengthAdjust="spacingAndGlyphs">4.0</text>
<text x="1203.54" y="543.6" font-family="'Liberation Serif','Times New Roman',serif" font-size="23.2" transform="rotate(-90 1203.54 543.6)" textLength="26" lengthAdjust="spacingAndGlyphs">4.5</text>
<text x="1230.2" y="543.6" font-family="'Liberation Serif','Times New Roman',serif" font-size="23.2" transform="rotate(-90 1230.2 543.6)" textLength="26" lengthAdjust="spacingAndGlyphs">5.0</text>
<text x="1256.86" y="543.6" font-family="'Liberation Serif','Times New Roman',serif" font-size="23.2" transform="rotate(-90 1256.86 543.6)" textLength="26" lengthAdjust="spacingAndGlyphs">5.5</text>
<text x="1283.52" y="543.6" font-family="'Liberation Serif','Times New Roman',serif" font-size="23.2" transform="rotate(-90 1283.52 543.6)" textLength="26" lengthAdjust="spacingAndGlyphs">6.0</text>
<text x="1310.18" y="543.6" font-family="'Liberation Serif','Times New Roman',serif" font-size="23.2" transform="rotate(-90 1310.18 543.6)" textLength="26" lengthAdjust="spacingAndGlyphs">6.5</text>
<text x="1336.84" y="543.6" font-family="'Liberation Serif','Times New Roman',serif" font-size="23.2" transform="rotate(-90 1336.84 543.6)" textLength="26" lengthAdjust="spacingAndGlyphs">7.0</text>
<text x="1363.5" y="543.6" font-family="'Liberation Serif','Times New Roman',serif" font-size="23.2" transform="rotate(-90 1363.5 543.6)" textLength="26" lengthAdjust="spacingAndGlyphs">7.5</text>
<text x="1390.16" y="543.6" font-family="'Liberation Serif','Times New Roman',serif" font-size="23.2" transform="rotate(-90 1390.16 543.6)" textLength="26" lengthAdjust="spacingAndGlyphs">8.0</text>
<text x="1416.82" y="543.6" font-family="'Liberation Serif','Times New Roman',serif" font-size="23.2" transform="rotate(-90 1416.82 543.6)" textLength="26" lengthAdjust="spacingAndGlyphs">8.5</text>
<text x="1443.48" y="543.6" font-family="'Liberation Serif','Times New Roman',serif" font-size="23.2" transform="rotate(-90 1443.48 543.6)" textLength="26" lengthAdjust="spacingAndGlyphs">9.0</text>
<text x="1470.14" y="543.6" font-family="'Liberation Serif','Times New Roman',serif" font-size="23.2" transform="rotate(-90 1470.14 543.6)" textLength="26" lengthAdjust="spacingAndGlyphs">9.5</text>
<text x="1496.8" y="551.4" font-family="'Liberation Serif','Times New Roman',serif" font-size="23.2" transform="rotate(-90 1496.8 551.4)" textLength="33.6" lengthAdjust="spacingAndGlyphs">10.0</text>
<text x="1523.46" y="551.4" font-family="'Liberation Serif','Times New Roman',serif" font-size="23.2" transform="rotate(-90 1523.46 551.4)" textLength="33.6" lengthAdjust="spacingAndGlyphs">10.5</text>
<text x="1550.12" y="551.4" font-family="'Liberation Serif','Times New Roman',serif" font-size="23.2" transform="rotate(-90 1550.12 551.4)" textLength="33.6" lengthAdjust="spacingAndGlyphs">11.0</text>
<text x="1576.78" y="551.4" font-family="'Liberation Serif','Times New Roman',serif" font-size="23.2" transform="rotate(-90 1576.78 551.4)" textLength="33.6" lengthAdjust="spacingAndGlyphs">11.5</text>
<text x="1603.44" y="551.4" font-family="'Liberation Serif','Times New Roman',serif" font-size="23.2" transform="rotate(-90 1603.44 551.4)" textLength="33.6" lengthAdjust="spacingAndGlyphs">12.0</text>
<text x="1630.1" y="551.4" font-family="'Liberation Serif','Times New Roman',serif" font-size="23.2" transform="rotate(-90 1630.1 551.4)" textLength="33.6" lengthAdjust="spacingAndGlyphs">12.5</text>
<text x="1656.76" y="551.4" font-family="'Liberation Serif','Times New Roman',serif" font-size="23.2" transform="rotate(-90 1656.76 551.4)" textLength="33.6" lengthAdjust="spacingAndGlyphs">13.0</text>
<text x="1683.42" y="551.4" font-family="'Liberation Serif','Times New Roman',serif" font-size="23.2" transform="rotate(-90 1683.42 551.4)" textLength="33.6" lengthAdjust="spacingAndGlyphs">13.5</text>
<text x="1710.08" y="551.4" font-family="'Liberation Serif','Times New Roman',serif" font-size="23.2" transform="rotate(-90 1710.08 551.4)" textLength="33.6" lengthAdjust="spacingAndGlyphs">14.0</text>
<text x="1736.74" y="551.4" font-family="'Liberation Serif','Times New Roman',serif" font-size="23.2" transform="rotate(-90 1736.74 551.4)" textLength="33.6" lengthAdjust="spacingAndGlyphs">14.5</text>
<text x="1763.4" y="551.4" font-family="'Liberation Serif','Times New Roman',serif" font-size="23.2" transform="rotate(-90 1763.4 551.4)" textLength="33.6" lengthAdjust="spacingAndGlyphs">15.0</text>
<text x="28.2" y="445.7" font-family="'Liberation Serif','Times New Roman',serif" font-size="32" font-weight="bold" transform="rotate(-90 28.2 445.7)" textLength="350.6" lengthAdjust="spacingAndGlyphs">Error rate (1 − Accuracy)</text>
<text x="28.2" y="1059.9" font-family="'Liberation Serif','Times New Roman',serif" font-size="32" font-weight="bold" transform="rotate(-90 28.2 1059.9)" textLength="350.6" lengthAdjust="spacingAndGlyphs">Error rate (1 − Accuracy)</text>
<text x="880.3" y="593.9" font-family="'Liberation Serif','Times New Roman',serif" font-size="32" font-weight="bold" textLength="109.3" lengthAdjust="spacing">D-score</text>
<text x="891" y="1200.8" font-family="'Liberation Serif','Times New Roman',serif" font-size="32" font-weight="bold" textLength="88.6" lengthAdjust="spacingAndGlyphs">Model</text>
<line x1="124.8" y1="140.1" x2="186.1" y2="140.1" stroke="#000" stroke-width="2.2"/>
<polygon points="113,140.1 125.8,133.7 125.8,146.5" fill="#000"/>
<polygon points="197.9,140.1 185.1,133.7 185.1,146.5" fill="#000"/>
<text x="123.3" y="171" font-family="'Liberation Serif','Times New Roman',serif" font-size="21.33" textLength="65.3" lengthAdjust="spacingAndGlyphs">Normal</text>
<line x1="214.1" y1="186.2" x2="243.8" y2="186.2" stroke="#000" stroke-width="2.2"/>
<polygon points="202.3,186.2 215.1,179.8 215.1,192.6" fill="#000"/>
<polygon points="255.6,186.2 242.8,179.8 242.8,192.6" fill="#000"/>
<text x="176.8" y="215.6" font-family="'Liberation Serif','Times New Roman',serif" font-size="21.33" textLength="99.8" lengthAdjust="spacingAndGlyphs">Suspicious</text>
<line x1="269" y1="232.4" x2="904.2" y2="232.4" stroke="#000" stroke-width="2.2"/>
<polygon points="257.2,232.4 270,226 270,238.8" fill="#000"/>
<polygon points="916,232.4 903.2,226 903.2,238.8" fill="#000"/>
<text x="512" y="261.8" font-family="'Liberation Serif','Times New Roman',serif" font-size="21.33" textLength="97.4" lengthAdjust="spacingAndGlyphs">Pathologic</text>
<line x1="112.3" y1="1078.61" x2="916.8" y2="1078.61" stroke="#7d7878" stroke-width="1.9"/>
<line x1="112.3" y1="1031.12" x2="916.8" y2="1031.12" stroke="#7d7878" stroke-width="1.9"/>
<line x1="112.3" y1="983.63" x2="916.8" y2="983.63" stroke="#7d7878" stroke-width="1.9"/>
<line x1="112.3" y1="936.14" x2="916.8" y2="936.14" stroke="#7d7878" stroke-width="1.9"/>
<line x1="112.3" y1="888.65" x2="916.8" y2="888.65" stroke="#7d7878" stroke-width="1.9"/>
<line x1="112.3" y1="841.16" x2="916.8" y2="841.16" stroke="#7d7878" stroke-width="1.9"/>
<line x1="112.3" y1="793.67" x2="916.8" y2="793.67" stroke="#7d7878" stroke-width="1.9"/>
<line x1="112.3" y1="746.18" x2="916.8" y2="746.18" stroke="#7d7878" stroke-width="1.9"/>
<line x1="112.3" y1="698.69" x2="916.8" y2="698.69" stroke="#7d7878" stroke-width="1.9"/>
<rect x="112.3" y="651.2" width="804.5" height="474.9" fill="none" stroke="#111111" stroke-width="2" stroke-linejoin="round"/>
<rect x="142.3" y="1118.6" width="28.6" height="7.7" fill="#548235"/>
<rect x="178.65" y="947.78" width="27.4" height="178.52" fill="#ffd966"/>
<rect x="214.4" y="994.08" width="27.4" height="132.22" fill="#c00000"/>
<rect x="303.05" y="1117.22" width="28.6" height="9.08" fill="#548235"/>
<rect x="339.4" y="1007.85" width="27.4" height="118.45" fill="#ffd966"/>
<rect x="375.15" y="1038.48" width="27.4" height="87.82" fill="#c00000"/>
<rect x="463.8" y="1083.6" width="28.6" height="42.7" fill="#548235"/>
<rect x="500.15" y="1030.17" width="27.4" height="96.13" fill="#ffd966"/>
<rect x="535.9" y="1115.84" width="27.4" height="10.46" fill="#c00000"/>
<rect x="624.55" y="1114.23" width="28.6" height="12.07" fill="#548235"/>
<rect x="660.9" y="1037.58" width="27.4" height="88.72" fill="#ffd966"/>
<rect x="696.65" y="1061.04" width="27.4" height="65.26" fill="#c00000"/>
<rect x="785.3" y="1098.84" width="28.6" height="27.46" fill="#548235"/>
<rect x="821.65" y="1042.71" width="27.4" height="83.59" fill="#ffd966"/>
<rect x="857.4" y="1115.84" width="27.4" height="10.46" fill="#c00000"/>
<rect x="905.7" y="649" width="2.5" height="479.5" fill="#fff" fill-opacity="0.9"/>
<rect x="913.7" y="649" width="1.7" height="479.5" fill="#fff" fill-opacity="0.9"/>
<line x1="952.5" y1="1078.79" x2="1758.5" y2="1078.79" stroke="#7d7878" stroke-width="1.9"/>
<line x1="952.5" y1="1031.28" x2="1758.5" y2="1031.28" stroke="#7d7878" stroke-width="1.9"/>
<line x1="952.5" y1="983.77" x2="1758.5" y2="983.77" stroke="#7d7878" stroke-width="1.9"/>
<line x1="952.5" y1="936.26" x2="1758.5" y2="936.26" stroke="#7d7878" stroke-width="1.9"/>
<line x1="952.5" y1="888.75" x2="1758.5" y2="888.75" stroke="#7d7878" stroke-width="1.9"/>
<line x1="952.5" y1="841.24" x2="1758.5" y2="841.24" stroke="#7d7878" stroke-width="1.9"/>
<line x1="952.5" y1="793.73" x2="1758.5" y2="793.73" stroke="#7d7878" stroke-width="1.9"/>
<line x1="952.5" y1="746.22" x2="1758.5" y2="746.22" stroke="#7d7878" stroke-width="1.9"/>
<line x1="952.5" y1="698.71" x2="1758.5" y2="698.71" stroke="#7d7878" stroke-width="1.9"/>
<rect x="952.5" y="651.2" width="806" height="475.1" fill="none" stroke="#111111" stroke-width="2" stroke-linejoin="round"/>
<rect x="984.1" y="1079.08" width="28.6" height="47.42" fill="#548235"/>
<rect x="1020.45" y="971.08" width="27.4" height="155.42" fill="#ffd966"/>
<rect x="1056.2" y="1035.89" width="27.4" height="90.61" fill="#c00000"/>
<rect x="1144.85" y="1079.88" width="28.6" height="46.62" fill="#548235"/>
<rect x="1181.2" y="1070.24" width="27.4" height="56.26" fill="#ffd966"/>
<rect x="1216.95" y="1085.25" width="27.4" height="41.25" fill="#c00000"/>
<rect x="1305.6" y="1053.13" width="28.6" height="73.37" fill="#548235"/>
<rect x="1341.95" y="1068.34" width="27.4" height="58.16" fill="#ffd966"/>
<rect x="1377.7" y="1099.03" width="27.4" height="27.47" fill="#c00000"/>
<rect x="1466.35" y="1079.88" width="28.6" height="46.62" fill="#548235"/>
<rect x="1502.7" y="1022.35" width="27.4" height="104.15" fill="#ffd966"/>
<rect x="1538.45" y="1078.5" width="27.4" height="48" fill="#c00000"/>
<rect x="1627.1" y="1048" width="28.6" height="78.5" fill="#548235"/>
<rect x="1663.45" y="1090.38" width="27.4" height="36.12" fill="#ffd966"/>
<rect x="1699.2" y="1119.55" width="27.4" height="6.95" fill="#c00000"/>
<text y="1156.6" font-family="'Liberation Serif','Times New Roman',serif" font-size="21.33"><tspan x="167.6" textLength="51.6" lengthAdjust="spacingAndGlyphs">FcNN</tspan></text>
<text y="1156.6" font-family="'Liberation Serif','Times New Roman',serif" font-size="21.33"><tspan x="315" textLength="78" lengthAdjust="spacingAndGlyphs">XGBoost</tspan></text>
<text y="1156.6" font-family="'Liberation Serif','Times New Roman',serif" font-size="21.33"><tspan x="485" textLength="60.6" lengthAdjust="spacingAndGlyphs">TabNet</tspan></text>
<text y="1156.6" font-family="'Liberation Serif','Times New Roman',serif" font-size="21.33"><tspan x="626.4" textLength="80.2" lengthAdjust="spacingAndGlyphs">Ensemble</tspan> <tspan x="713.6" textLength="8.6" lengthAdjust="spacingAndGlyphs">1</tspan></text>
<text y="1156.6" font-family="'Liberation Serif','Times New Roman',serif" font-size="21.33"><tspan x="787.2" textLength="80.2" lengthAdjust="spacingAndGlyphs">Ensemble</tspan> <tspan x="873.8" textLength="10" lengthAdjust="spacingAndGlyphs">2</tspan></text>
<text y="1156.6" font-family="'Liberation Serif','Times New Roman',serif" font-size="21.33"><tspan x="1008.7" textLength="51.6" lengthAdjust="spacingAndGlyphs">FcNN</tspan></text>
<text y="1156.6" font-family="'Liberation Serif','Times New Roman',serif" font-size="21.33"><tspan x="1156.1" textLength="78" lengthAdjust="spacingAndGlyphs">XGBoost</tspan></text>
<text y="1156.6" font-family="'Liberation Serif','Times New Roman',serif" font-size="21.33"><tspan x="1326.1" textLength="60.6" lengthAdjust="spacingAndGlyphs">TabNet</tspan></text>
<text y="1156.6" font-family="'Liberation Serif','Times New Roman',serif" font-size="21.33"><tspan x="1467.5" textLength="80.2" lengthAdjust="spacingAndGlyphs">Ensemble</tspan> <tspan x="1554.7" textLength="8.6" lengthAdjust="spacingAndGlyphs">1</tspan></text>
<text y="1156.6" font-family="'Liberation Serif','Times New Roman',serif" font-size="21.33"><tspan x="1628.3" textLength="80.2" lengthAdjust="spacingAndGlyphs">Ensemble</tspan> <tspan x="1714.9" textLength="10" lengthAdjust="spacingAndGlyphs">2</tspan></text>
<rect x="127.9" y="54.4" width="191.1" height="49" fill="#fff" stroke="#111111" stroke-width="2" rx="1.5"/>
<text y="88" font-family="'Liberation Serif','Times New Roman',serif" font-size="27" font-weight="bold"><tspan x="144" textLength="90.4" lengthAdjust="spacingAndGlyphs">Internal</tspan> <tspan x="246" textLength="50.8" lengthAdjust="spacingAndGlyphs">Test</tspan></text>
<rect x="969.8" y="54.4" width="191.4" height="49.1" fill="#fff" stroke="#111111" stroke-width="2" rx="1.5"/>
<text y="88" font-family="'Liberation Serif','Times New Roman',serif" font-size="27" font-weight="bold"><tspan x="986" textLength="97.8" lengthAdjust="spacingAndGlyphs">External</tspan> <tspan x="1094.4" textLength="49.2" lengthAdjust="spacingAndGlyphs">Test</tspan></text>
<rect x="127.9" y="668.7" width="191.1" height="48.8" fill="#fff" stroke="#111111" stroke-width="2" rx="1.5"/>
<text y="701.4" font-family="'Liberation Serif','Times New Roman',serif" font-size="27" font-weight="bold"><tspan x="144" textLength="90.4" lengthAdjust="spacingAndGlyphs">Internal</tspan> <tspan x="246" textLength="50.8" lengthAdjust="spacingAndGlyphs">Test</tspan></text>
<rect x="969.8" y="668.7" width="191.4" height="48.8" fill="#fff" stroke="#111111" stroke-width="2" rx="1.5"/>
<text y="701.4" font-family="'Liberation Serif','Times New Roman',serif" font-size="27" font-weight="bold"><tspan x="986" textLength="97.8" lengthAdjust="spacingAndGlyphs">External</tspan> <tspan x="1094.4" textLength="49.2" lengthAdjust="spacingAndGlyphs">Test</tspan></text>
<rect x="1473.2" y="54.5" width="272.2" height="182.5" fill="#fff" stroke="#111111" stroke-width="2" rx="1.5"/>
<rect x="1487.8" y="70.9" width="47.4" height="19.7" fill="#002060"/>
<text y="86.9" font-family="'Liberation Serif','Times New Roman',serif" font-size="27" font-weight="bold"><tspan x="1544.6" textLength="66.8" lengthAdjust="spacingAndGlyphs">FcNN</tspan></text>
<rect x="1487.8" y="103.7" width="47.4" height="19.7" fill="#548235"/>
<text y="122" font-family="'Liberation Serif','Times New Roman',serif" font-size="27" font-weight="bold"><tspan x="1544.6" textLength="105" lengthAdjust="spacingAndGlyphs">XGBoost</tspan></text>
<rect x="1487.8" y="137.4" width="47.4" height="19.7" fill="#c00000"/>
<text y="154.3" font-family="'Liberation Serif','Times New Roman',serif" font-size="27" font-weight="bold"><tspan x="1544.6" textLength="84" lengthAdjust="spacingAndGlyphs">TabNet</tspan></text>
<rect x="1487.8" y="168.7" width="47.4" height="19.7" fill="#7b7576"/>
<text y="186.2" font-family="'Liberation Serif','Times New Roman',serif" font-size="27" font-weight="bold"><tspan x="1544.6" textLength="110.2" lengthAdjust="spacingAndGlyphs">Ensemble</tspan> <tspan x="1666" textLength="13" lengthAdjust="spacingAndGlyphs">1</tspan></text>
<rect x="1487.8" y="201.1" width="47.4" height="19.7" fill="#3b3838"/>
<text y="219.5" font-family="'Liberation Serif','Times New Roman',serif" font-size="27" font-weight="bold"><tspan x="1544.6" textLength="110.2" lengthAdjust="spacingAndGlyphs">Ensemble</tspan> <tspan x="1666" textLength="13" lengthAdjust="spacingAndGlyphs">2</tspan></text>
<rect x="1473.1" y="668.4" width="268.2" height="115.9" fill="#fff" stroke="#111111" stroke-width="1.8" rx="1.5"/>
<rect x="1487.8" y="683.1" width="47.4" height="19.7" fill="#548235"/>
<text y="700.7" font-family="'Liberation Serif','Times New Roman',serif" font-size="27" font-weight="bold"><tspan x="1544.6" textLength="85" lengthAdjust="spacingAndGlyphs">Normal</tspan></text>
<rect x="1487.8" y="717.4" width="47.4" height="19.7" fill="#ffd966"/>
<text y="735" font-family="'Liberation Serif','Times New Roman',serif" font-size="27" font-weight="bold"><tspan x="1544.6" textLength="121.6" lengthAdjust="spacingAndGlyphs">Subclinical</tspan> <tspan x="1681.2" textLength="38.4" lengthAdjust="spacingAndGlyphs">KC</tspan></text>
<rect x="1487.8" y="751.5" width="47.4" height="19.7" fill="#c00000"/>
<text y="769.1" font-family="'Liberation Serif','Times New Roman',serif" font-size="27" font-weight="bold"><tspan x="1544.6" textLength="85" lengthAdjust="spacingAndGlyphs">Clinical</tspan> <tspan x="1642.8" textLength="38.4" lengthAdjust="spacingAndGlyphs">KC</tspan></text>
</svg></body></html>
